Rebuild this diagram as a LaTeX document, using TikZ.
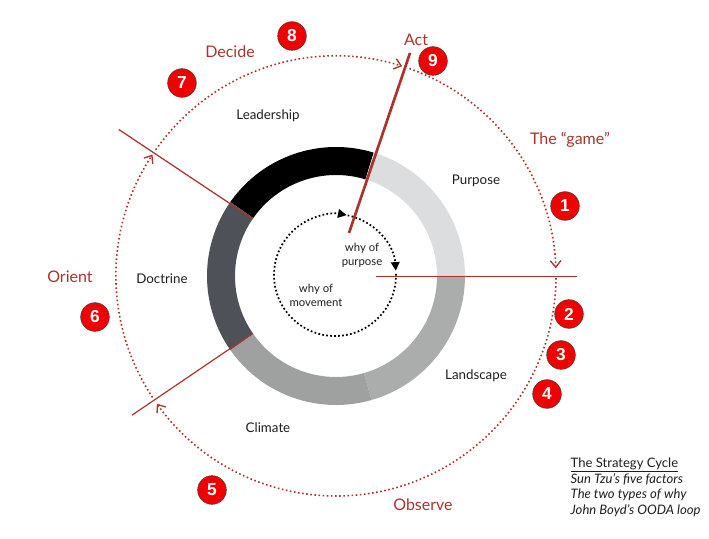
\documentclass[tikz,border=0pt]{standalone}
\usepackage{fontspec}
\setmainfont{Lato}
\newfontfamily\numfont{Liberation Sans}
\usepackage{tikz}
\usetikzlibrary{positioning,arrows.meta,calc}
\definecolor{cyclered}{RGB}{170,52,44}
\definecolor{badgered}{RGB}{240,0,0}
\definecolor{purposegray}{RGB}{220,221,223}
\definecolor{landgray}{RGB}{171,172,172}
\definecolor{climategray}{RGB}{159,161,161}
\definecolor{doctrineslate}{RGB}{78,81,88}
\definecolor{textdark}{RGB}{30,30,30}
\tikzset{
  factor-label/.style={font=\fontsize{10}{12}\selectfont, text=textdark},
  why-label/.style={font=\fontsize{8.5}{10.5}\selectfont, align=center, text=textdark},
  ooda-label/.style={font=\fontsize{12}{14}\selectfont, text=cyclered},
  step-badge/.style={circle, draw=black!75, thin, fill=badgered, minimum size=21.5pt,
    inner sep=0pt, font=\numfont\bfseries\fontsize{13}{14}\selectfont, text=white},
  cycle-arc/.style={draw=cyclered, line width=1.2pt, dash pattern=on 1.2pt off 1.9pt,
    -{Straight Barb[length=5pt,width=8pt,line width=1pt]}},
  why-arc/.style={draw=black, line width=1.3pt, dash pattern=on 1.3pt off 1.7pt,
    -{Triangle[length=6.5pt,width=6.5pt]}},
  cut-line/.style={draw=cyclered, line width=0.9pt},
  act-line/.style={draw=cyclered, line width=2pt},
  legend-text/.style={font=\fontsize{9.8}{11.8}\selectfont, align=left, anchor=north west, text=textdark}
}

\begin{document}
\begin{tikzpicture}[x=0.75pt, y=0.75pt]
\useasboundingbox (-336,-262) rectangle (373,276);
\coordinate (ctr) at (0,0);

% Five factors ring
\fill[black] (73:129) arc[start angle=73, end angle=145, radius=129] -- (145:101) arc[start angle=145, end angle=73, radius=101] -- cycle;
\fill[purposegray] (0:129) arc[start angle=0, end angle=73, radius=129] -- (73:101) arc[start angle=73, end angle=0, radius=101] -- cycle;
\fill[landgray] (-74:129) arc[start angle=-74, end angle=0, radius=129] -- (0:101) arc[start angle=0, end angle=-74, radius=101] -- cycle;
\fill[climategray] (-145:129) arc[start angle=-145, end angle=-74, radius=129] -- (-74:101) arc[start angle=-74, end angle=-145, radius=101] -- cycle;
\fill[doctrineslate] (145:129) arc[start angle=145, end angle=215, radius=129] -- (215:101) arc[start angle=215, end angle=145, radius=101] -- cycle;

% Factor labels
\node[factor-label] (leadership) at (-68,160) {Leadership};
\node[factor-label] (purpose) at (140,95) {Purpose};
\node[factor-label] (doctrine) at (-174,-3) {Doctrine};
\node[factor-label] (landscape) at (140,-100) {Landscape};
\node[factor-label] (climate) at (-68,-152) {Climate};

% Two types of why
\coordinate (why-ctr) at (-1,1);
\draw[why-arc] ($(why-ctr)+(78:61)$) arc[start angle=78, end angle=4, radius=61];
\draw[why-arc] ($(why-ctr)+(1:61)$) arc[start angle=1, end angle=-281, radius=61];
\node[why-label] (why-purpose) at (26,21) {why of\\purpose};
\node[why-label] (why-movement) at (-20,-19) {why of\\movement};

% Cut lines between the OODA phases
\coordinate (orient-top-in) at (145.5:101);
\coordinate (orient-top-out) at (146:262);
\coordinate (orient-bot-in) at (-145.5:101);
\coordinate (orient-bot-out) at (-145.7:247);
\coordinate (game-in) at (40,-0.5);
\coordinate (game-out) at (241,-0.5);
\coordinate (act-in) at (13,43);
\coordinate (act-out) at (74,223);
\draw[cut-line] (orient-top-out) -- (orient-top-in);
\draw[cut-line] (orient-bot-out) -- (orient-bot-in);
\draw[cut-line] (game-in) -- (game-out);
\draw[act-line] (act-in) -- (act-out);

% OODA loop
\draw[cycle-arc] (70.5:220) arc[start angle=70.5, end angle=2, radius=220];
\draw[cycle-arc] (-0.5:220) arc[start angle=-0.5, end angle=-144.5, radius=220];
\draw[cycle-arc] (213.5:220) arc[start angle=213.5, end angle=146.5, radius=220];
\draw[cycle-arc] (145:220) arc[start angle=145, end angle=72.5, radius=220];

% OODA labels
\node[ooda-label] (decide) at (-106,224) {Decide};
\node[ooda-label] (act) at (80,236) {Act};
\node[ooda-label] (game) at (234,136) {The “game”};
\node[ooda-label] (orient) at (-266,-1) {Orient};
\node[ooda-label] (observe) at (87,-229) {Observe};

% Numbered steps
\node[step-badge] (step-1) at (229,70) {1};
\node[step-badge] (step-2) at (233,-38) {2};
\node[step-badge] (step-3) at (225,-79) {3};
\node[step-badge] (step-4) at (211,-118) {4};
\node[step-badge] (step-5) at (-124,-214) {5};
\node[step-badge] (step-6) at (-241,-41) {6};
\node[step-badge] (step-7) at (-154,193) {7};
\node[step-badge] (step-8) at (-44,240) {8};
\node[step-badge] (step-9) at (97,215) {9};

% Legend
\node[legend-text] (legend) at (230,-177)
  {\underline{The Strategy Cycle}\\
   \textit{Sun Tzu's five factors}\\
   \textit{The two types of why}\\
   \textit{John Boyd's OODA loop}};
\end{tikzpicture}
\end{document}
